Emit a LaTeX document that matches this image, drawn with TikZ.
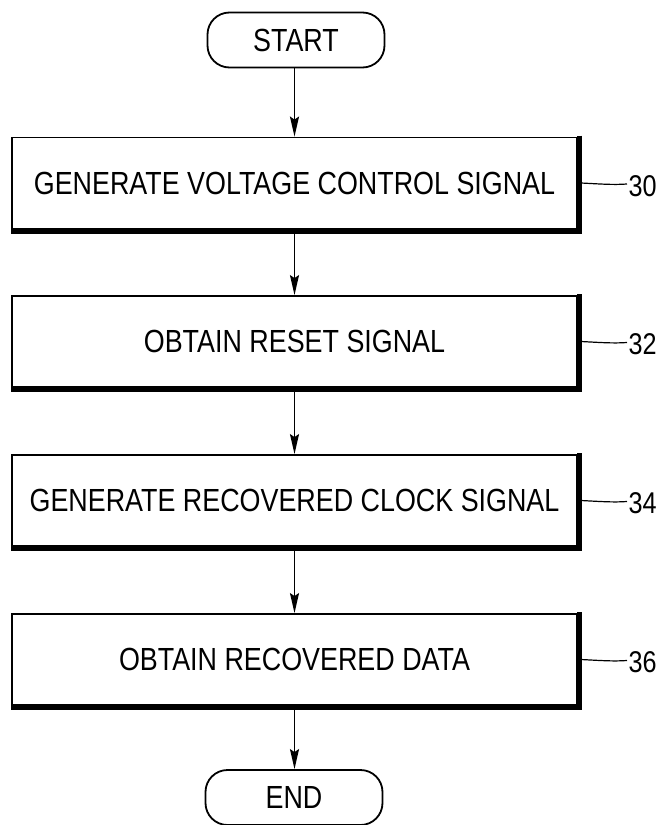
\documentclass[tikz,border=0pt]{standalone}
\usepackage{fontspec}
\setmainfont{Liberation Sans}[FakeStretch=0.84]
\usetikzlibrary{arrows.meta}
\begin{document}
\begin{tikzpicture}[x=1pt,y=-1pt,
  lbl/.style={font=\fontsize{32}{38}\selectfont},
  stepbox/.style={draw, line width=1.8pt, minimum width=565pt, minimum height=91pt, inner sep=0pt, lbl},
  term/.style={draw, line width=1.8pt, rounded corners=22pt, minimum width=177pt, minimum height=55pt, inner sep=0pt, lbl},
  arr/.style={line width=1.8pt, -{Stealth[length=20pt,width=9pt,inset=3pt]}},
  shadeline/.style={line width=5pt},
  lead/.style={line width=1.2pt},
  num/.style={font=\fontsize{30}{36}\selectfont, anchor=west, inner sep=1.5pt}]
\useasboundingbox (0,0) rectangle (666,825);
\fill[white] (0,0) rectangle (666,825);

\node[term] (start) at (296,40) {START};
\node[stepbox] (b30) at (294.5,183) {GENERATE VOLTAGE CONTROL SIGNAL};
\node[stepbox] (b32) at (294.5,341.5) {OBTAIN RESET SIGNAL};
\node[stepbox] (b34) at (294.5,500.5) {GENERATE RECOVERED CLOCK SIGNAL};
\node[stepbox] (b36) at (294.5,659.5) {OBTAIN RECOVERED DATA};
\node[term] (end) at (294,797.5) {END};

\foreach \b in {b30,b32,b34,b36}{
  \draw[shadeline] ([xshift=1.6pt,yshift=1pt]\b.north east) -- ([xshift=1.6pt,yshift=-1.6pt]\b.south east) -- ([yshift=-1.6pt]\b.south west);
}

\draw[arr] (start.south -| b30.north) -- (b30.north);
\draw[arr] (b30.south) -- (b32.north);
\draw[arr] (b32.south) -- (b34.north);
\draw[arr] (b34.south) -- (b36.north);
\draw[arr] (b36.south) -- (end.north -| b36.south);

\node[num] (n30) at (627,186) {30};
\node[num] (n32) at (627,344.5) {32};
\node[num] (n34) at (627,503.5) {34};
\node[num] (n36) at (627,662.5) {36};

\foreach \b/\n in {b30/n30,b32/n32,b34/n34,b36/n36}{
  \draw[lead] ([xshift=3pt]\b.east) .. controls +(20,1) and +(-14,1) .. ([yshift=2pt]\n.west);
}
\end{tikzpicture}
\end{document}
